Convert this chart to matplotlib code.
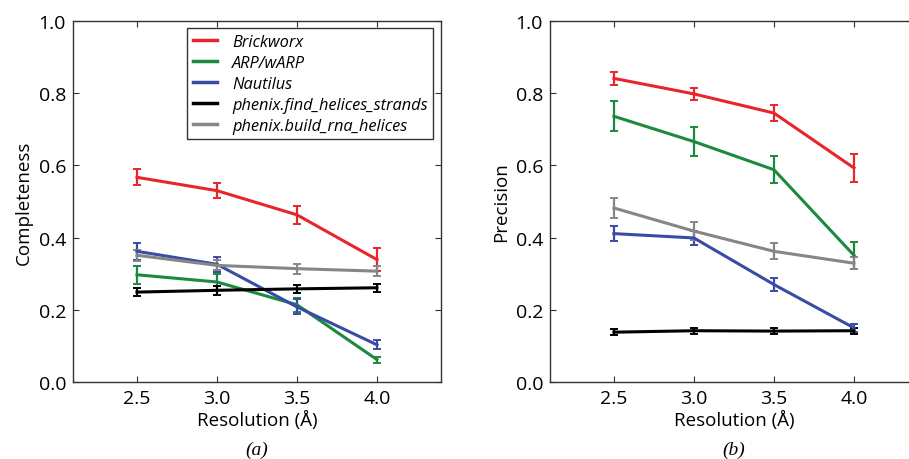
import matplotlib
matplotlib.use("Agg")
import matplotlib.pyplot as plt
from matplotlib.lines import Line2D

resolution = [2.5, 3.0, 3.5, 4.0]
methods = ["Brickworx", "ARP/wARP", "Nautilus",
           "phenix.find_helices_strands", "phenix.build_rna_helices"]
colors = ["#e8252b", "#1b8a3e", "#3a4ba6", "#000000", "#868686"]

# completeness, panel (a)
comp = [
    [0.567, 0.530, 0.463, 0.339],
    [0.297, 0.277, 0.214, 0.062],
    [0.362, 0.326, 0.208, 0.103],
    [0.249, 0.254, 0.258, 0.261],
    [0.351, 0.323, 0.314, 0.307],
]
comp_err = [
    [0.022, 0.021, 0.024, 0.032],
    [0.025, 0.021, 0.020, 0.008],
    [0.023, 0.020, 0.021, 0.012],
    [0.012, 0.012, 0.012, 0.011],
    [0.015, 0.014, 0.014, 0.014],
]

# precision, panel (b)
prec = [
    [0.841, 0.798, 0.745, 0.593],
    [0.736, 0.666, 0.588, 0.351],
    [0.411, 0.399, 0.270, 0.150],
    [0.138, 0.142, 0.141, 0.142],
    [0.482, 0.418, 0.362, 0.329],
]
prec_err = [
    [0.018, 0.017, 0.022, 0.038],
    [0.042, 0.039, 0.037, 0.037],
    [0.020, 0.020, 0.017, 0.012],
    [0.008, 0.008, 0.008, 0.008],
    [0.028, 0.026, 0.022, 0.017],
]

plt.rcParams["font.family"] = ["Open Sans", "DejaVu Sans"]

fig = plt.figure(figsize=(9.09, 4.60), dpi=100)
ax1 = fig.add_axes([0.0803, 0.1674, 0.4048, 0.7848])
ax2 = fig.add_axes([0.605, 0.1674, 0.4048, 0.7848])

for ax, vals, errs, ylab, tag in [(ax1, comp, comp_err, "Completeness", "(a)"),
                                   (ax2, prec, prec_err, "Precision", "(b)")]:
    for name, c, v, e in zip(methods, colors, vals, errs):
        ax.errorbar(resolution, v, yerr=e, color=c, lw=2.2, elinewidth=1.6,
                    capsize=3, capthick=1.4)
    ax.set_xlim(2.1, 4.4)
    ax.set_ylim(0.0, 1.0)
    ax.set_xticks(resolution)
    ax.set_xticklabels(["2.5", "3.0", "3.5", "4.0"])
    ax.set_yticks([0.0, 0.2, 0.4, 0.6, 0.8, 1.0])
    ax.tick_params(direction="in", top=True, right=True, length=4,
                   labelsize=14, pad=5, color="#333333")
    for s in ax.spines.values():
        s.set_color("#333333")
        s.set_linewidth(1.0)
    ax.set_xlabel("Resolution (Å)", fontsize=13.5, labelpad=2)
    ax.set_ylabel(ylab, fontsize=13.5, labelpad=4)
    ax.text(0.5, -0.186, tag, transform=ax.transAxes, ha="center", va="center",
            fontsize=14, fontstyle="italic", family="Liberation Serif")

handles = [Line2D([], [], color=c, lw=2.5) for c in colors]
leg = ax1.legend(handles, methods, loc="upper left",
                 bbox_to_anchor=(0.31, 0.98),
                 prop={"style": "italic", "size": 11.8}, handlelength=1.5,
                 fancybox=False, framealpha=1, edgecolor="#333333",
                 labelspacing=0.3, borderpad=0.35, handletextpad=0.9,
                 borderaxespad=0)
leg.get_frame().set_linewidth(1.0)

fig.savefig("out.png", dpi=100)
